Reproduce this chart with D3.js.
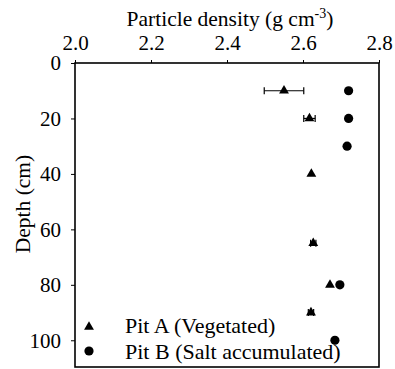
<!DOCTYPE html>
<html>
<head>
<meta charset="utf-8">
<script src="https://cdn.jsdelivr.net/npm/d3@7"></script>
<style>
  body { margin: 0; background: #fff; }
  svg { display: block; }
  svg text { font-family: "Liberation Serif", "Times New Roman", "DejaVu Serif", serif; }
</style>
</head>
<body>
<div id="chart"></div>
<script>
// Pit A (vegetated) - triangles with error bars
const depthA = [10, 20, 40, 65, 80, 90];
const densityA = [2.55, 2.617, 2.622, 2.627, 2.671, 2.621];
const errA = [0.052, 0.015, 0, 0.007, 0, 0.007];

// Pit B (salt accumulated) - circles
const depthB = [10, 20, 30, 80, 100];
const densityB = [2.72, 2.72, 2.716, 2.697, 2.684];

const xTicks = [2.0, 2.2, 2.4, 2.6, 2.8];
const yTicks = [0, 20, 40, 60, 80, 100];
const legendLabels = ["Pit A (Vegetated)", "Pit B (Salt accumulated)"];

const width = 395, height = 369;
const margin = {top: 63, right: 16, bottom: 1, left: 75};

const x = d3.scaleLinear([2.0, 2.8], [margin.left, width - margin.right]);
const y = d3.scaleLinear([0, 110], [margin.top, height - margin.bottom]);

const svg = d3.select("#chart").append("svg")
    .attr("width", width)
    .attr("height", height);

// top axis
svg.append("g")
    .attr("transform", `translate(0,${margin.top})`)
    .call(d3.axisTop(x).tickValues(xTicks).tickFormat(d3.format(".1f")).tickSizeInner(3).tickSizeOuter(0).tickPadding(10))
    .call(g => g.attr("font-family", null))
    .call(g => g.select(".domain").remove())
    .call(g => g.selectAll("line").attr("stroke", "#000"))
    .call(g => g.selectAll("text").attr("font-size", 21).attr("fill", "#000"));

// left axis
svg.append("g")
    .attr("transform", `translate(${margin.left},0)`)
    .call(d3.axisLeft(y).tickValues(yTicks).tickSizeInner(4).tickSizeOuter(0).tickPadding(10))
    .call(g => g.attr("font-family", null))
    .call(g => g.select(".domain").remove())
    .call(g => g.selectAll("line").attr("stroke", "#000"))
    .call(g => g.selectAll("text").attr("font-size", 21).attr("fill", "#000"));

// frame
svg.append("rect")
    .attr("x", x(2.0))
    .attr("y", y(0))
    .attr("width", x(2.8) - x(2.0))
    .attr("height", y(110) - y(0) - 1)
    .attr("fill", "none")
    .attr("stroke", "#000")
    .attr("stroke-width", 1.6);

// axis titles
const title = svg.append("text")
    .attr("x", 230)
    .attr("y", 26)
    .attr("text-anchor", "middle")
    .attr("font-size", 21.5)
    .attr("fill", "#000");
title.append("tspan").text("Particle density (g cm");
title.append("tspan").attr("font-size", 14).attr("dy", -8).text("-3");
title.append("tspan").attr("dy", 8).text(")");

svg.append("text")
    .attr("transform", "translate(30,204) rotate(-90)")
    .attr("text-anchor", "middle")
    .attr("font-size", 21.5)
    .attr("fill", "#000")
    .text("Depth (cm)");

// error bars for pit A
const eb = svg.append("g").attr("stroke", "#000").attr("stroke-width", 1.2);
depthA.forEach((d, i) => {
  if (!errA[i]) return;
  const x0 = x(densityA[i] - errA[i]), x1 = x(densityA[i] + errA[i]), yy = y(d);
  eb.append("line").attr("x1", x0).attr("x2", x1).attr("y1", yy).attr("y2", yy);
  eb.append("line").attr("x1", x0).attr("x2", x0).attr("y1", yy - 3.5).attr("y2", yy + 3.5);
  eb.append("line").attr("x1", x1).attr("x2", x1).attr("y1", yy - 3.5).attr("y2", yy + 3.5);
});

const tri = d3.symbol(d3.symbolTriangle, 42);

svg.append("g").selectAll("path")
    .data(depthA)
    .join("path")
    .attr("d", tri)
    .attr("transform", (d, i) => `translate(${x(densityA[i])},${y(d)})`)
    .attr("fill", "#000");

svg.append("g").selectAll("circle")
    .data(depthB)
    .join("circle")
    .attr("cx", (d, i) => x(densityB[i]))
    .attr("cy", d => y(d))
    .attr("r", 4.6)
    .attr("fill", "#000");

// legend
const legend = svg.append("g");
legend.append("path")
    .attr("d", tri)
    .attr("transform", "translate(89,327)")
    .attr("fill", "#000");
legend.append("circle")
    .attr("cx", 89)
    .attr("cy", 351)
    .attr("r", 4.6)
    .attr("fill", "#000");
legend.selectAll("text")
    .data(legendLabels)
    .join("text")
    .attr("x", 125)
    .attr("y", (d, i) => 333 + i * 25.5)
    .attr("font-size", 22)
    .attr("fill", "#000")
    .text(d => d);
</script>
</body>
</html>
